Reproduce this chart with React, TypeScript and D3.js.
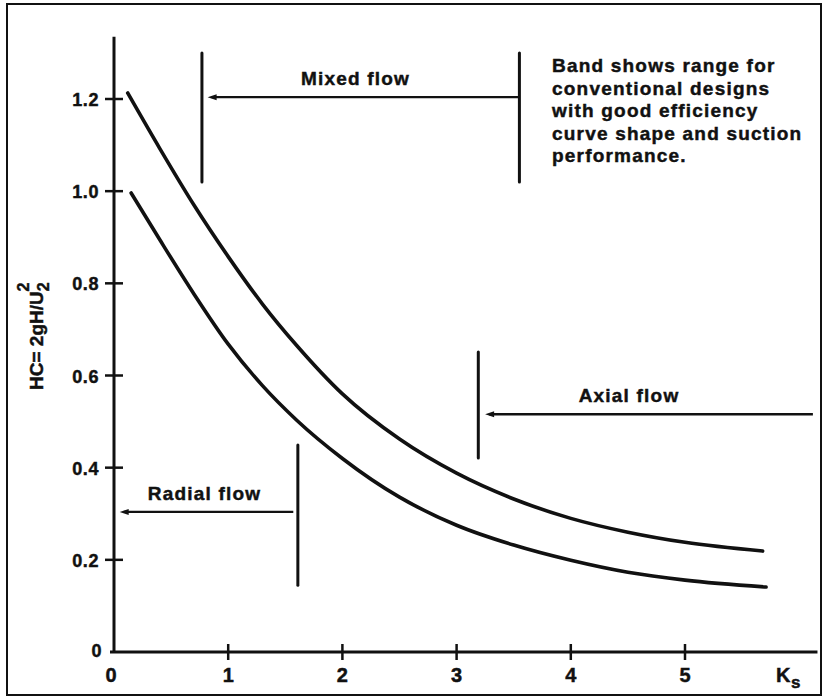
import React, { useEffect, useRef } from 'react';
import * as d3 from 'd3';

// Ks values and head coefficient for the two band edges
const upperKs = [0.12, 0.4, 0.7, 1.0, 1.3, 1.6, 2.0, 2.5, 3.0, 3.5, 4.0, 4.5, 5.0, 5.68];
const upperHC = [1.213, 1.093, 0.970, 0.858, 0.755, 0.665, 0.560, 0.462, 0.388, 0.332, 0.290, 0.260, 0.238, 0.219];
const lowerKs = [0.15, 0.4, 0.7, 1.0, 1.3, 1.6, 2.0, 2.5, 3.0, 3.5, 4.0, 4.5, 5.0, 5.71];
const lowerHC = [0.996, 0.895, 0.777, 0.668, 0.578, 0.503, 0.420, 0.336, 0.275, 0.232, 0.199, 0.173, 0.156, 0.141];

const xTicks = [0, 1, 2, 3, 4, 5];
const yTicks = [0, 0.2, 0.4, 0.6, 0.8, 1.0, 1.2];
const yTickLabels = ['0', '0.2', '0.4', '0.6', '0.8', '1.0', '1.2'];

// flow regions: label, arrow extent (Ks), arrow level (HC), bar Ks positions and bar HC span
const regionLabels = ['Mixed flow', 'Axial flow', 'Radial flow'];
const arrowFrom = [0.82, 3.25, 0.05];
const arrowTo = [3.55, 6.12, 1.57];
const arrowAt = [1.204, 0.516, 0.304];
const barKs = [[0.77, 3.55], [3.19], [1.61]];
const barSpan = [[1.30, 1.02], [0.651, 0.421], [0.449, 0.145]];

const noteLines = [
  'Band shows range for',
  'conventional designs',
  'with good efficiency',
  'curve shape and suction',
  'performance.',
];

const App = () => {
  const ref = useRef<SVGSVGElement>(null);

  useEffect(() => {
    if (!ref.current) return;
    const svg = d3.select(ref.current);
    svg.selectAll('*').remove();

    const ink = '#111';
    const font = '"Liberation Sans", Arial, sans-serif';

    const x = d3.scaleLinear().domain([0, 6]).range([114, 799.2]);
    const y = d3.scaleLinear().domain([0, 1.2]).range([652, 99]);

    // heavier text, like the scanned original
    const bold = (sel: any, size: number, spacing = 0) =>
      sel.style('font-family', font).style('font-weight', 'bold')
        .style('font-size', `${size}px`).style('letter-spacing', `${spacing}px`)
        .attr('fill', ink).attr('stroke', ink).attr('stroke-width', 0.45);

    // frame
    svg.append('rect')
      .attr('x', 7).attr('y', 4)
      .attr('width', 814).attr('height', 691)
      .attr('fill', 'none').attr('stroke', ink).attr('stroke-width', 2);

    // axes
    svg.append('line')
      .attr('x1', x(0)).attr('x2', x(0))
      .attr('y1', y(0)).attr('y2', y(1.335))
      .attr('stroke', ink).attr('stroke-width', 3);
    svg.append('line')
      .attr('x1', x(-0.035)).attr('x2', x(6.16))
      .attr('y1', y(0)).attr('y2', y(0))
      .attr('stroke', ink).attr('stroke-width', 3);

    yTicks.forEach((t, i) => {
      if (t > 0) {
        svg.append('line')
          .attr('x1', x(0) - 9).attr('x2', x(0) + 9)
          .attr('y1', y(t)).attr('y2', y(t))
          .attr('stroke', ink).attr('stroke-width', 2.5);
      }
      bold(svg.append('text'), 18, 0.6)
        .attr('x', x(0) - (t === 0 ? 12 : 15))
        .attr('y', y(t) + (t === 0 ? 5 : 7))
        .attr('text-anchor', 'end')
        .text(yTickLabels[i]);
    });

    xTicks.forEach(t => {
      if (t > 0) {
        svg.append('line')
          .attr('x1', x(t)).attr('x2', x(t))
          .attr('y1', y(0) - 8).attr('y2', y(0) + 8)
          .attr('stroke', ink).attr('stroke-width', 2.5);
      }
      bold(svg.append('text'), 20)
        .attr('x', x(t) - (t === 0 ? 3 : 0))
        .attr('y', 682)
        .attr('text-anchor', 'middle')
        .text(String(t));
    });

    // x axis title Ks
    const kx = bold(svg.append('text'), 20, 0.5).attr('x', 776).attr('y', 682);
    kx.append('tspan').text('K');
    kx.append('tspan').attr('dy', 6).style('font-size', '17px').text('s');

    // y axis title
    const yt = bold(svg.append('text'), 19)
      .attr('transform', 'translate(43,390) rotate(-90)');
    yt.append('tspan').text('HC= 2gH/U');
    yt.append('tspan').attr('dy', 6).style('font-size', '16px').text('2');
    yt.append('tspan').attr('dx', -9).attr('dy', -20).style('font-size', '16px').text('2');

    // band curves
    const line = d3.line<[number, number]>()
      .x(d => x(d[0])).y(d => y(d[1]))
      .curve(d3.curveMonotoneX);
    const upper = upperKs.map((k, i) => [k, upperHC[i]] as [number, number]);
    const lower = lowerKs.map((k, i) => [k, lowerHC[i]] as [number, number]);
    [upper, lower].forEach(pts => {
      svg.append('path')
        .attr('d', line(pts))
        .attr('fill', 'none').attr('stroke', ink)
        .attr('stroke-width', 3.6).attr('stroke-linecap', 'round');
    });

    // flow region markers
    regionLabels.forEach((label, i) => {
      barKs[i].forEach(k => {
        svg.append('line')
          .attr('x1', x(k)).attr('x2', x(k))
          .attr('y1', y(barSpan[i][0])).attr('y2', y(barSpan[i][1]))
          .attr('stroke', ink).attr('stroke-width', 3).attr('stroke-linecap', 'round');
      });
      const x0 = x(arrowFrom[i]);
      const x1 = x(arrowTo[i]);
      const ay = y(arrowAt[i]);
      svg.append('line')
        .attr('x1', x0 + 4).attr('x2', x1)
        .attr('y1', ay).attr('y2', ay)
        .attr('stroke', ink).attr('stroke-width', 2.4);
      svg.append('path')
        .attr('d', `M${x0},${ay} L${x0 + 9},${ay - 3} L${x0 + 9},${ay + 3} Z`)
        .attr('fill', ink);
      bold(svg.append('text'), 19, 1.2)
        .attr('x', (x0 + x1) / 2 + (i === 1 ? -20 : i === 2 ? -2 : -8))
        .attr('y', ay - 12)
        .attr('text-anchor', 'middle')
        .text(label);
    });

    // explanatory note
    const note = bold(svg.append('text'), 19, 1.2);
    noteLines.forEach((t, i) => {
      note.append('tspan').attr('x', 552).attr('y', 72 + i * 22.5).text(t);
    });
  }, []);

  return (
    <svg
      ref={ref}
      width={827}
      height={699}
      style={{ position: 'absolute', left: 0, top: 0, background: '#fff' }}
    />
  );
};

export default App;
